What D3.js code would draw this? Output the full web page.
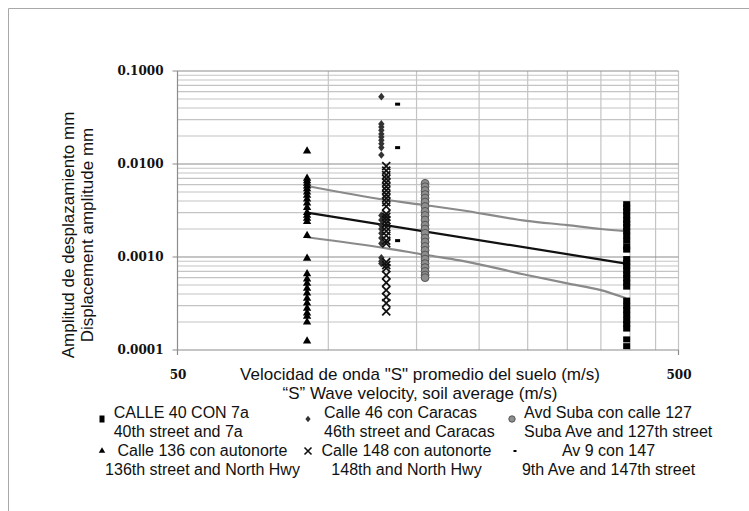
<!DOCTYPE html>
<html><head><meta charset="utf-8">
<script src="https://cdn.jsdelivr.net/npm/d3@7"></script>
<style>body{margin:0;background:#fff}svg{display:block}</style>
</head><body>
<svg id="c" width="749" height="511"></svg>
<script>
// ---------- data ----------
const xTickValues = [50, 500];
const xTickLabels = ["50", "500"];
const yTickValues = [0.0001, 0.001, 0.01, 0.1];
const yTickLabels = ["0.0001", "0.0010", "0.0100", "0.1000"];
const xGridValues = [100, 150, 200, 250, 300, 350, 400, 450, 500];

const seriesEs = ["CALLE 40 CON 7a", "Calle 46 con Caracas", "Avd Suba con calle 127",
                  "Calle 136 con autonorte", "Calle 148 con autonorte", "Av 9 con 147"];
const seriesEn = ["40th street and 7a", "46th street and Caracas", "Suba Ave and 127th street",
                  "136th street and North Hwy", "148th and North Hwy", "9th Ave and 147th street"];

const calle40V = 394;
const calle40 = [0.0037, 0.0034, 0.0031, 0.0028, 0.0025, 0.0023, 0.0021, 0.0019, 0.0017,
                 0.0015, 0.0013, 0.0012, 0.00095, 0.00087, 0.0008, 0.00072, 0.00065, 0.00059,
                 0.00053, 0.00048, 0.00034, 0.0003, 0.00027, 0.00024, 0.00021, 0.00019,
                 0.00017, 0.00013, 0.00011];
const calle46V = 127.6;
const calle46 = [0.053, 0.027, 0.025, 0.023, 0.021, 0.0195, 0.018, 0.0165, 0.015, 0.0125,
                 0.0028, 0.0025, 0.0022, 0.002, 0.0018, 0.0016, 0.0014, 0.00098, 0.0009, 0.00085];
const subaV = 156;
const suba = [0.0062, 0.0057, 0.0052, 0.0047, 0.0043, 0.0039, 0.0035, 0.0031, 0.0028, 0.0025,
              0.0022, 0.002, 0.0018, 0.0016, 0.00145, 0.0013, 0.00118, 0.00105, 0.00095,
              0.00085, 0.00077, 0.0007, 0.00064, 0.0006];
const calle136V = 90.7;
const calle136 = [0.0138, 0.007, 0.0066, 0.0062, 0.0058, 0.0054, 0.005, 0.0046, 0.0042, 0.0038,
                  0.0034, 0.003, 0.0028, 0.0026, 0.0024, 0.0017, 0.00097, 0.00066, 0.00058,
                  0.00052, 0.00046, 0.00041, 0.00036, 0.00032, 0.00028, 0.00025, 0.00023,
                  0.0002, 0.000125];
const calle148V = 130.5;
const calle148 = [0.0095, 0.0085, 0.0076, 0.0069, 0.0063, 0.0057, 0.0052, 0.0047, 0.0043, 0.0039,
                  0.0035, 0.0029, 0.0027, 0.0025, 0.0023, 0.0021, 0.0019, 0.0017, 0.0015, 0.0014,
                  0.00088, 0.00082, 0.00076, 0.00064, 0.00053, 0.00044, 0.00037, 0.00032, 0.00026];
const av9V = 137.5;
const av9 = [0.044, 0.015, 0.0015];

const trendV = [90.7, 393];
const trendY = [0.0030, 0.00085];
const bandV = [90.7, 130.8, 157, 183, 249, 300, 350, 393];
const bandUpper = [0.0058, 0.0041, 0.0036, 0.0032, 0.00245, 0.0022, 0.002, 0.0019];
const bandLower = [0.00163, 0.00124, 0.00105, 0.00092, 0.00064, 0.00052, 0.00044, 0.00036];

// ---------- drawing ----------
const svg = d3.select("#c");
const x = d3.scaleLog().domain([50, 500]).range([177.5, 678.5]);
const y = d3.scaleLog().domain([0.0001, 0.1]).range([350, 71]);

// outer frame
svg.append("path").attr("d", "M8.5,511V8.5H749").attr("fill", "none").attr("stroke", "#a8a8a8");

// grid
const minor = [];
[0.0001, 0.001, 0.01].forEach(d => { for (let k = 2; k <= 9; k++) minor.push(d * k); });
const g = svg.append("g");
g.selectAll(".hm").data(minor).join("line")
  .attr("x1", x(50)).attr("x2", x(500)).attr("y1", d => y(d)).attr("y2", d => y(d))
  .attr("stroke", "#c4c4c4").attr("stroke-width", 1.2);
g.selectAll(".vg").data(xGridValues).join("line")
  .attr("x1", d => x(d)).attr("x2", d => x(d)).attr("y1", y(0.1)).attr("y2", y(0.0001))
  .attr("stroke", "#c4c4c4").attr("stroke-width", 1.2);
g.selectAll(".hM").data(yTickValues).join("line")
  .attr("x1", x(50) - 5).attr("x2", x(500)).attr("y1", d => y(d)).attr("y2", d => y(d))
  .attr("stroke", "#8c8c8c").attr("stroke-width", 1.2);
g.append("line").attr("x1", x(50)).attr("x2", x(50)).attr("y1", y(0.1)).attr("y2", y(0.0001) + 5)
  .attr("stroke", "#8c8c8c").attr("stroke-width", 1.2);
g.append("line").attr("x1", x(500)).attr("x2", x(500)).attr("y1", y(0.0001)).attr("y2", y(0.0001) + 5)
  .attr("stroke", "#8c8c8c").attr("stroke-width", 1.2);

// tick labels via d3 axes
const yAxis = svg.append("g").attr("transform", `translate(${x(50)},0)`)
  .call(d3.axisLeft(y).tickValues(yTickValues).tickFormat((d, i) => yTickLabels[i]).tickSize(0).tickPadding(14));
const xAxis = svg.append("g").attr("transform", `translate(0,${y(0.0001)})`)
  .call(d3.axisBottom(x).tickValues(xTickValues).tickFormat((d, i) => xTickLabels[i]).tickSize(0).tickPadding(20));
[yAxis, xAxis].forEach(a => {
  a.select(".domain").remove();
  a.selectAll("text").attr("font-family", "DejaVu Serif").attr("font-weight", "bold")
    .attr("font-size", 12).attr("fill", "#111");
});

// trend and band lines
const smooth = d3.line().x(d => x(d[0])).y(d => y(d[1])).curve(d3.curveMonotoneX);
const straight = d3.line().x(d => x(d[0])).y(d => y(d[1]));
svg.append("path").datum(bandV.map((v, i) => [v, bandUpper[i]])).attr("d", smooth)
  .attr("fill", "none").attr("stroke", "#8a8a8a").attr("stroke-width", 2.2);
svg.append("path").datum(bandV.map((v, i) => [v, bandLower[i]])).attr("d", smooth)
  .attr("fill", "none").attr("stroke", "#8a8a8a").attr("stroke-width", 2.2);
svg.append("path").datum(trendV.map((v, i) => [v, trendY[i]])).attr("d", straight)
  .attr("fill", "none").attr("stroke", "#111").attr("stroke-width", 2.2);

// markers
const tri = d3.symbol().type(d3.symbolTriangle).size(30)();
const diaPath = (w, h) => `M0,${-h}L${w},0L0,${h}L${-w},0Z`;
const crossPath = s => `M${-s},${-s}L${s},${s}M${-s},${s}L${s},${-s}`;

const pts = svg.append("g");
pts.selectAll(".sq").data(calle40).join("rect")
  .attr("x", x(calle40V) - 3.5).attr("y", d => y(d) - 3).attr("width", 7).attr("height", 6)
  .attr("fill", "#000");
pts.selectAll(".di").data(calle46).join("path")
  .attr("transform", d => `translate(${x(calle46V)},${y(d)})`).attr("d", diaPath(3.2, 3.8))
  .attr("fill", "#333");
pts.selectAll(".ci").data(suba).join("circle")
  .attr("cx", x(subaV)).attr("cy", d => y(d)).attr("r", 3.9)
  .attr("fill", "#8e8e8e").attr("stroke", "#555").attr("stroke-width", 1);
pts.selectAll(".tr").data(calle136).join("path")
  .attr("transform", d => `translate(${x(calle136V)},${y(d)})`).attr("d", tri)
  .attr("fill", "#000");
pts.selectAll(".xx").data(calle148).join("path")
  .attr("transform", d => `translate(${x(calle148V)},${y(d)})`).attr("d", crossPath(4))
  .attr("fill", "none").attr("stroke", "#111").attr("stroke-width", 1.8);
pts.selectAll(".da").data(av9).join("rect")
  .attr("x", x(av9V) - 2.5).attr("y", d => y(d) - 1.5).attr("width", 5).attr("height", 3)
  .attr("fill", "#000");

// axis titles
const sans = "Liberation Sans, Arial, sans-serif";
svg.append("text").attr("x", 420).attr("y", 380).attr("text-anchor", "middle")
  .attr("font-family", sans).attr("font-size", 17).attr("fill", "#111")
  .text('Velocidad de onda "S" promedio del suelo (m/s)');
svg.append("text").attr("x", 420).attr("y", 399).attr("text-anchor", "middle")
  .attr("font-family", sans).attr("font-size", 17).attr("fill", "#111")
  .text('\u201CS\u201D Wave velocity, soil average (m/s)');
const yt = svg.append("g").attr("transform", "translate(0,235) rotate(-90)");
yt.append("text").attr("x", 0).attr("y", 74).attr("text-anchor", "middle")
  .attr("font-family", sans).attr("font-size", 17).attr("fill", "#111")
  .text("Amplitud de desplazamiento mm");
yt.append("text").attr("x", 0).attr("y", 93).attr("text-anchor", "middle")
  .attr("font-family", sans).attr("font-size", 17).attr("fill", "#111")
  .text("Displacement amplitude mm");

// legend
const lg = svg.append("g").attr("font-family", sans).attr("font-size", 16).attr("fill", "#111");
const legPos = [
  {mx: 102, my: 419, tx: 113.7, anchor: "start", y1: 418, y2: 437},
  {mx: 308, my: 419, tx: 324, anchor: "start", y1: 418, y2: 437},
  {mx: 512, my: 419, tx: 524, anchor: "start", y1: 418, y2: 437},
  {mx: 102, my: 451, tx: 202.5, anchor: "middle", y1: 456, y2: 475},
  {mx: 308, my: 451, tx: 406.5, anchor: "middle", y1: 456, y2: 475},
  {mx: 515, my: 451, tx: 608.5, anchor: "middle", y1: 456, y2: 475}
];
seriesEs.forEach((s, i) => {
  const p = legPos[i];
  lg.append("text").attr("x", p.tx).attr("y", p.y1).attr("text-anchor", p.anchor).text(s);
  lg.append("text").attr("x", p.tx).attr("y", p.y2).attr("text-anchor", p.anchor).text(seriesEn[i]);
});
const lm = svg.append("g");
lm.append("rect").attr("x", legPos[0].mx - 2.5).attr("y", legPos[0].my - 3.5).attr("width", 5).attr("height", 7).attr("fill", "#000");
lm.append("path").attr("transform", `translate(${legPos[1].mx},${legPos[1].my})`).attr("d", diaPath(2.6, 3.2)).attr("fill", "#333");
lm.append("circle").attr("cx", legPos[2].mx).attr("cy", legPos[2].my).attr("r", 3.2).attr("fill", "#8e8e8e").attr("stroke", "#555");
lm.append("path").attr("transform", `translate(${legPos[3].mx},${legPos[3].my})`).attr("d", d3.symbol().type(d3.symbolTriangle).size(18)()).attr("fill", "#000");
lm.append("path").attr("transform", `translate(${legPos[4].mx},${legPos[4].my})`).attr("d", crossPath(3.5)).attr("fill", "none").attr("stroke", "#111").attr("stroke-width", 1.6);
lm.append("rect").attr("x", legPos[5].mx - 1.5).attr("y", legPos[5].my - 1).attr("width", 3).attr("height", 2).attr("fill", "#000");
</script>
</body></html>
